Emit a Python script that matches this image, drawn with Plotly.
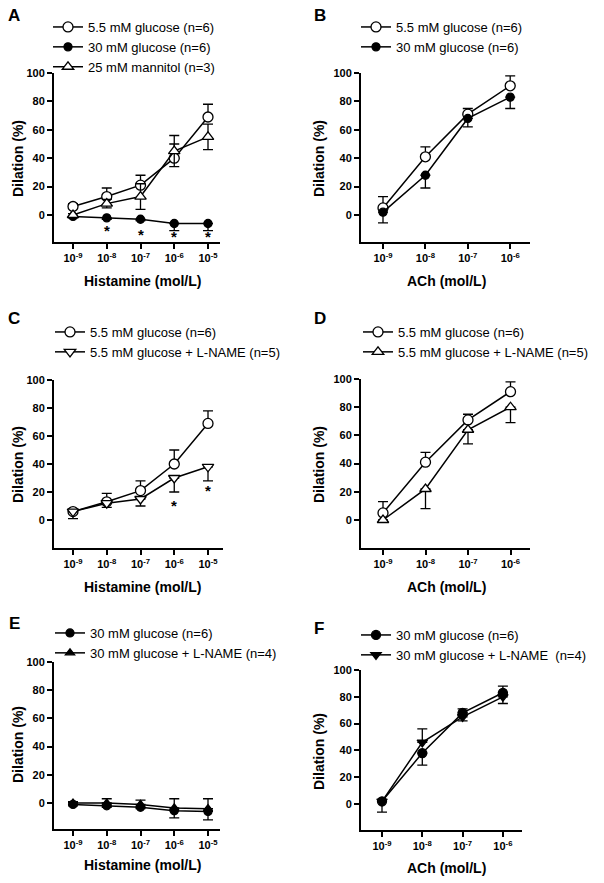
import plotly.graph_objects as go

# --- Données ---
his_ticks = ["10<sup>-9</sup>", "10<sup>-8</sup>", "10<sup>-7</sup>", "10<sup>-6</sup>", "10<sup>-5</sup>"]
ach_ticks = ["10<sup>-9</sup>", "10<sup>-8</sup>", "10<sup>-7</sup>", "10<sup>-6</sup>"]

# A - histamine
a_glu55 = [6, 13, 21, 40, 69]
a_glu55_up = [2, 6, 7, 10, 9]
a_glu30 = [-1, -2, -3, -6, -6]
a_glu30_dn = [1, 1, 1, 5, 5]
a_man = [0, 8, 13, 45, 55]
a_man_err = [1, 3, 9, 11, 9]
a_star_x = [1, 2, 3, 4]
a_star_y = [-10, -13, -14.5, -14.5]

# B - ACh
b_glu55 = [5, 41, 71, 91]
b_glu55_up = [8, 7, 4, 7]
b_glu30 = [2, 28, 68, 83]
b_glu30_dn = [7.5, 9, 6, 8]

# C - histamine + L-NAME
c_glu55 = [6, 13, 21, 40, 69]
c_glu55_up = [2, 6, 7, 10, 9]
c_lname = [6, 12, 15, 30, 38]
c_lname_dn = [5, 3, 5, 10, 10]
c_star_x = [3, 4]
c_star_y = [11, 22]

# D - ACh + L-NAME
d_glu55 = [5, 41, 71, 91]
d_glu55_up = [8, 7, 4, 7]
d_lname = [0, 22, 64, 80]
d_lname_dn = [1, 14, 10, 11]

# E - histamine, 30 mM
e_glu30 = [-1, -2, -3, -5.5, -6]
e_glu30_dn = [1, 1, 1, 5, 6]
e_lname = [0, 0, -1, -3.5, -4]
e_lname_up = [1, 3, 3, 6.5, 7]

# F - ACh, 30 mM
f_glu30 = [2, 38, 68, 83]
f_glu30_up = [0, 0, 3, 5]
f_glu30_dn = [8, 9, 0, 0]
f_lname = [2, 46, 65, 80]
f_lname_up = [0, 10, 0, 0]
f_lname_dn = [0, 0, 3, 5]

W, H = 604, 883
FONT = "Liberation Sans, Arial, sans-serif"

# géométrie des panneaux (pixels) : axe x gauche/droite, 1er tick, pas, y=100, y=0, bas de l'axe
panels = {
    1: dict(x0=54, x1=220, t0=73, step=33.75, ytop=73, yzero=215, ybot=242),
    2: dict(x0=361, x1=530, t0=383, step=42.4, ytop=73, yzero=215, ybot=242),
    3: dict(x0=54, x1=223, t0=73, step=33.75, ytop=380, yzero=520, ybot=548),
    4: dict(x0=361, x1=530, t0=383, step=42.5, ytop=379, yzero=520, ybot=548),
    5: dict(x0=54, x1=220, t0=73, step=33.75, ytop=662, yzero=803, ybot=829),
    6: dict(x0=361, x1=522, t0=382, step=40.3, ytop=670, yzero=804, ybot=830),
}

fig = go.Figure()


def ax_name(i, kind):
    return kind if i == 1 else f"{kind}{i}"


def add_series(i, y, up, dn, name, symbol, fill, size):
    n = len(y)
    fig.add_trace(go.Scatter(
        x=list(range(n)), y=y, name=name,
        mode="lines+markers",
        xaxis=ax_name(i, "x"), yaxis=ax_name(i, "y"),
        legend=ax_name(i, "legend"),
        line=dict(color="black", width=1.5),
        marker=dict(symbol=symbol, size=size, color=fill,
                    line=dict(color="black", width=1.3)),
        error_y=dict(type="data", symmetric=False,
                     array=up if up is not None else [0] * n,
                     arrayminus=dn if dn is not None else [0] * n,
                     color="black", thickness=1.3, width=5),
        cliponaxis=False,
    ))


# A
add_series(1, a_glu55, a_glu55_up, None, "5.5 mM glucose (n=6)", "circle", "white", 10)
add_series(1, a_glu30, None, a_glu30_dn, "30 mM glucose (n=6)", "circle", "black", 8)
add_series(1, a_man, a_man_err, a_man_err, "25 mM mannitol (n=3)", "triangle-up", "white", 10)
# B
add_series(2, b_glu55, b_glu55_up, None, "5.5 mM glucose (n=6)", "circle", "white", 10)
add_series(2, b_glu30, None, b_glu30_dn, "30 mM glucose (n=6)", "circle", "black", 8)
# C
add_series(3, c_glu55, c_glu55_up, None, "5.5 mM glucose (n=6)", "circle", "white", 10)
add_series(3, c_lname, None, c_lname_dn, "5.5 mM glucose + L-NAME (n=5)", "triangle-down", "white", 10)
# D
add_series(4, d_glu55, d_glu55_up, None, "5.5 mM glucose (n=6)", "circle", "white", 10)
add_series(4, d_lname, None, d_lname_dn, "5.5 mM glucose + L-NAME (n=5)", "triangle-up", "white", 10)
# E (triangle dessiné en premier, légende inversée)
add_series(5, e_lname, e_lname_up, None, "30 mM glucose + L-NAME (n=4)", "triangle-up", "black", 8)
add_series(5, e_glu30, None, e_glu30_dn, "30 mM glucose (n=6)", "circle", "black", 8)
# F
add_series(6, f_glu30, f_glu30_up, f_glu30_dn, "30 mM glucose (n=6)", "circle", "black", 9)
add_series(6, f_lname, f_lname_up, f_lname_dn, "30 mM glucose + L-NAME  (n=4)", "triangle-down", "black", 9)

layout = dict(
    width=W, height=H,
    margin=dict(l=0, r=0, t=0, b=0, autoexpand=False),
    paper_bgcolor="white", plot_bgcolor="white",
    font=dict(family=FONT, color="black"),
)

legend_pos = {1: (48, 12), 2: (356, 12), 3: (50, 317), 4: (358, 317), 5: (50, 618), 6: (356, 620)}

for i, p in panels.items():
    ticks = his_ticks if i in (1, 3, 5) else ach_ticks
    lo = (p["x0"] - p["t0"]) / p["step"]
    hi = (p["x1"] - p["t0"]) / p["step"]
    ylo = -(p["ybot"] - p["yzero"]) / (p["yzero"] - p["ytop"]) * 100
    common = dict(showline=True, linewidth=2, linecolor="black", ticks="outside",
                  ticklen=5, tickwidth=2, tickcolor="black", showgrid=False,
                  zeroline=False, fixedrange=True, automargin=False,
                  tickfont=dict(family=FONT, size=11, weight="bold", color="black"))
    layout[ax_name(i, "xaxis")] = dict(
        domain=[p["x0"] / W, p["x1"] / W], range=[lo, hi],
        anchor=ax_name(i, "y"), tickvals=list(range(len(ticks))), ticktext=ticks,
        **common)
    layout[ax_name(i, "yaxis")] = dict(
        domain=[1 - p["ybot"] / H, 1 - p["ytop"] / H], range=[ylo, 100],
        anchor=ax_name(i, "x"), tickvals=[0, 20, 40, 60, 80, 100], **common)
    lx, ly = legend_pos[i]
    layout[ax_name(i, "legend")] = dict(
        x=lx / W, y=1 - ly / H, xanchor="left", yanchor="top",
        bgcolor="rgba(0,0,0,0)", borderwidth=0,
        font=dict(family=FONT, size=13, color="black"),
        itemclick=False, itemdoubleclick=False,
        traceorder="reversed" if i == 5 else "normal")

fig.update_layout(**layout)


def label(text, x, y, size, angle=0):
    fig.add_annotation(text=text, x=x / W, y=1 - y / H, xref="paper", yref="paper",
                       xanchor="center", yanchor="middle", showarrow=False, textangle=angle,
                       font=dict(family=FONT, size=size, color="black"))


# --- Textes : lettres, titres d'axes, astérisques ---
letters = [("A", 14, 16), ("B", 320, 16), ("C", 14, 318), ("D", 320, 318), ("E", 14, 623), ("F", 319, 628)]
for t, x, y in letters:
    label(f"<b>{t}</b>", x, y, 17)

xtitles = [("Histamine (mol/L)", 142, 281), ("ACh (mol/L)", 446, 281),
           ("Histamine (mol/L)", 142, 587), ("ACh (mol/L)", 446, 587),
           ("Histamine (mol/L)", 142, 865), ("ACh (mol/L)", 446, 868)]
for t, x, y in xtitles:
    label(f"<b>{t}</b>", x, y, 14)

ytitles = [(18, 159), (319, 159), (18, 465), (319, 465), (18, 745), (319, 752)]
for x, y in ytitles:
    label("<b>Dilation (%)</b>", x, y, 14, angle=-90)

for x, y in zip(a_star_x, a_star_y):
    fig.add_annotation(text="<b>*</b>", x=x, y=y, xref="x", yref="y", showarrow=False,
                       xanchor="center", yanchor="middle", yshift=-1,
                       font=dict(family=FONT, size=15, color="black"))
for x, y in zip(c_star_x, c_star_y):
    fig.add_annotation(text="<b>*</b>", x=x, y=y, xref="x3", yref="y3", showarrow=False,
                       xanchor="center", yanchor="middle", yshift=-1,
                       font=dict(family=FONT, size=15, color="black"))

# page sans marge pour que la figure remplisse la fenêtre
fig.write_html("out.html", config={"displayModeBar": False},
               post_script="document.body.style.margin='0px';")
